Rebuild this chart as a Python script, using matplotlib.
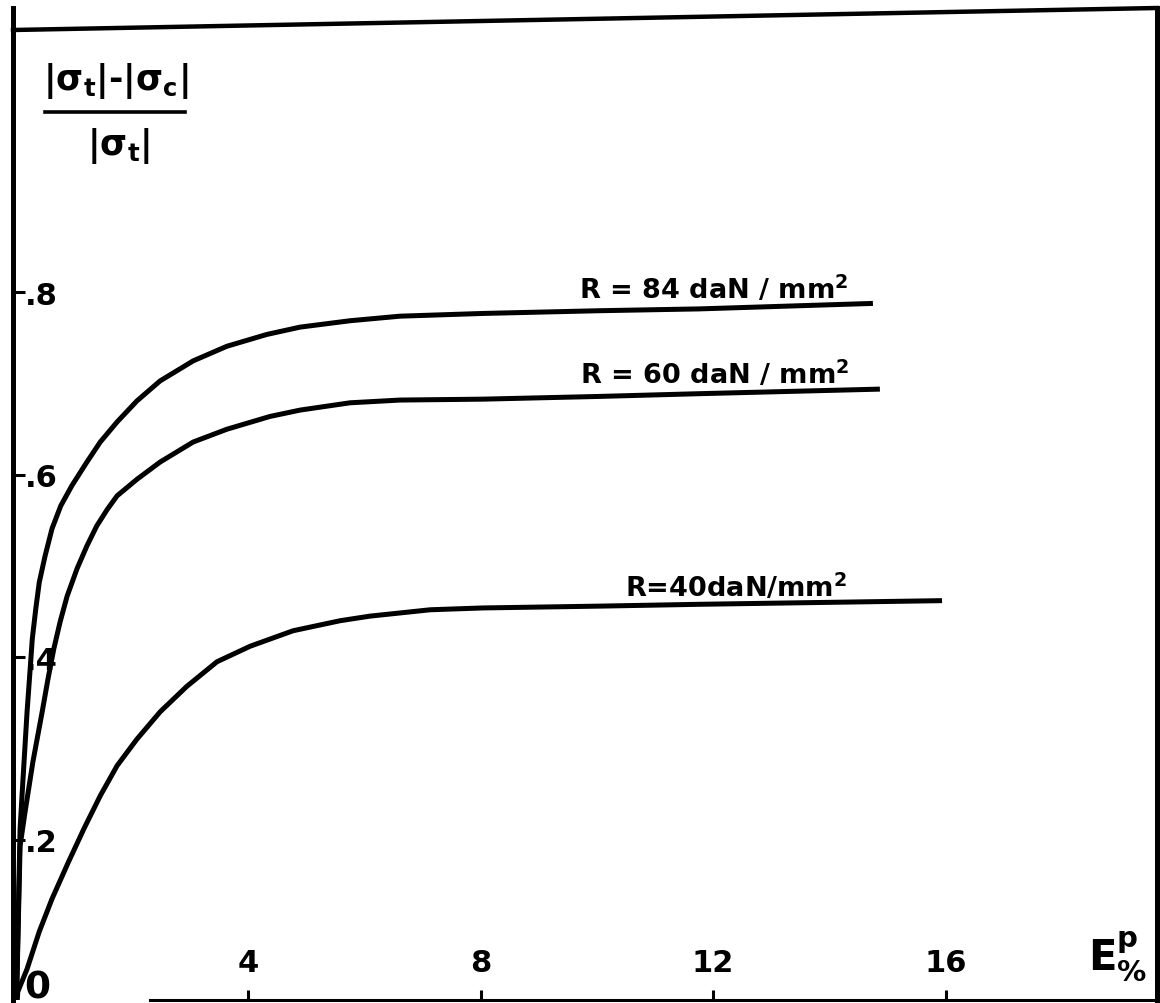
import numpy as np
import matplotlib
matplotlib.use('Agg')
import matplotlib.pyplot as plt

plt.rcParams['font.family'] = ['DejaVu Sans']
plt.rcParams['font.weight'] = 'bold'
plt.rcParams['mathtext.fontset'] = 'dejavusans'
plt.rcParams['mathtext.default'] = 'bf'

# values: plastic strain E^p (%) -> (|st|-|sc|)/|st|
ep_84 = [0.0, 0.07, 0.12, 0.19, 0.24, 0.28, 0.34, 0.40, 0.50, 0.62, 0.77, 0.96, 1.22, 1.45,
         1.74, 2.08, 2.48, 3.05, 3.63, 4.32, 4.89, 5.75, 6.61, 8.04, 10.05, 11.77, 14.75]
ratio_84 = [0.0, 0.212, 0.266, 0.340, 0.384, 0.420, 0.453, 0.482, 0.511, 0.541, 0.566, 0.588, 0.614, 0.636,
            0.658, 0.681, 0.703, 0.725, 0.741, 0.754, 0.762, 0.769, 0.774, 0.777, 0.780, 0.782, 0.788]

ep_60 = [0.0, 0.07, 0.155, 0.29, 0.45, 0.55, 0.65, 0.76, 0.88, 1.05, 1.22, 1.39, 1.57, 1.74,
         2.08, 2.48, 3.05, 3.63, 4.37, 4.89, 5.75, 6.61, 8.04, 10.05, 11.77, 14.87]
ratio_60 = [0.0, 0.193, 0.230, 0.285, 0.340, 0.376, 0.409, 0.439, 0.467, 0.497, 0.522, 0.544, 0.562, 0.577,
            0.595, 0.614, 0.636, 0.650, 0.664, 0.671, 0.679, 0.682, 0.683, 0.686, 0.689, 0.694]

ep_40 = [0.0, 0.03, 0.19, 0.40, 0.62, 0.90, 1.17, 1.45, 1.74, 2.08, 2.48, 2.94, 3.46, 4.03,
         4.77, 5.58, 6.09, 7.13, 8.04, 10.05, 11.77, 15.94]
ratio_40 = [0.0, 0.033, 0.058, 0.099, 0.135, 0.175, 0.212, 0.248, 0.281, 0.310, 0.340, 0.368, 0.395, 0.412,
            0.429, 0.440, 0.445, 0.452, 0.454, 0.456, 0.458, 0.462]

curve_labels = [r'R = 84 daN / mm$^{2}$', r'R = 60 daN / mm$^{2}$', r'R=40daN/mm$^{2}$']
label_pos = [(14.32, 0.794), (14.35, 0.701), (14.30, 0.467)]

xticks = [4, 8, 12, 16]
xticklabels = ['4', '8', '12', '16']
yticks = [0.2, 0.4, 0.6, 0.8]
yticklabels = ['.2', '.4', '.6', '.8']

fig = plt.figure(figsize=(11.6, 10.04), dpi=100)
ax = fig.add_axes([13/1160, 3/1004, 1144/1160, 992/1004])
ax.set_xlim(-0.052, 19.64)
ax.set_ylim(0.024, 1.112)

for xs, ys in [(ep_84, ratio_84), (ep_60, ratio_60), (ep_40, ratio_40)]:
    ax.plot(xs, ys, color='black', lw=3.6, solid_capstyle='butt', solid_joinstyle='round')

for txt, (x, y) in zip(curve_labels, label_pos):
    ax.text(x, y, txt, fontsize=19.5, ha='right', va='baseline')

# frame (the scanned top edge is a little skewed)
ax.spines['left'].set_linewidth(3.6)
ax.spines['right'].set_linewidth(3.6)
ax.spines['bottom'].set_linewidth(2.2)
ax.spines['bottom'].set_bounds(2.3, 19.64)
ax.spines['top'].set_visible(False)
ax.plot([0, 1], [1 - 22/992, 1], transform=ax.transAxes, color='black', lw=3.2, clip_on=False)

ax.set_xticks(xticks, labels=xticklabels)
ax.set_yticks(yticks, labels=yticklabels)
ax.tick_params(axis='x', direction='in', length=7, width=2.2, pad=-16.5, labelsize=22)
ax.tick_params(axis='y', direction='in', length=8.5, width=2.2, pad=-8.5, labelsize=22)
for t in ax.xaxis.get_major_ticks():
    t.label1.set_verticalalignment('bottom')
for t in ax.yaxis.get_major_ticks():
    t.label1.set_horizontalalignment('left')

ax.text(0.36, 0.038, '0', fontsize=27, ha='center', va='center')
ax.text(18.97, 0.072, r'$\mathbf{E}^{p}_{\%}$', fontsize=30, ha='center', va='center')

# y label as a stacked fraction
ax.text(1.72, 1.033, r'$|\sigma_t|$-$|\sigma_c|$', fontsize=25, ha='center', va='center')
ax.plot([0.50, 2.91], [0.998, 0.998], color='black', lw=2.6, clip_on=False)
ax.text(1.76, 0.962, r'$|\sigma_t|$', fontsize=25, ha='center', va='center')

fig.savefig('out.png', dpi=100)
